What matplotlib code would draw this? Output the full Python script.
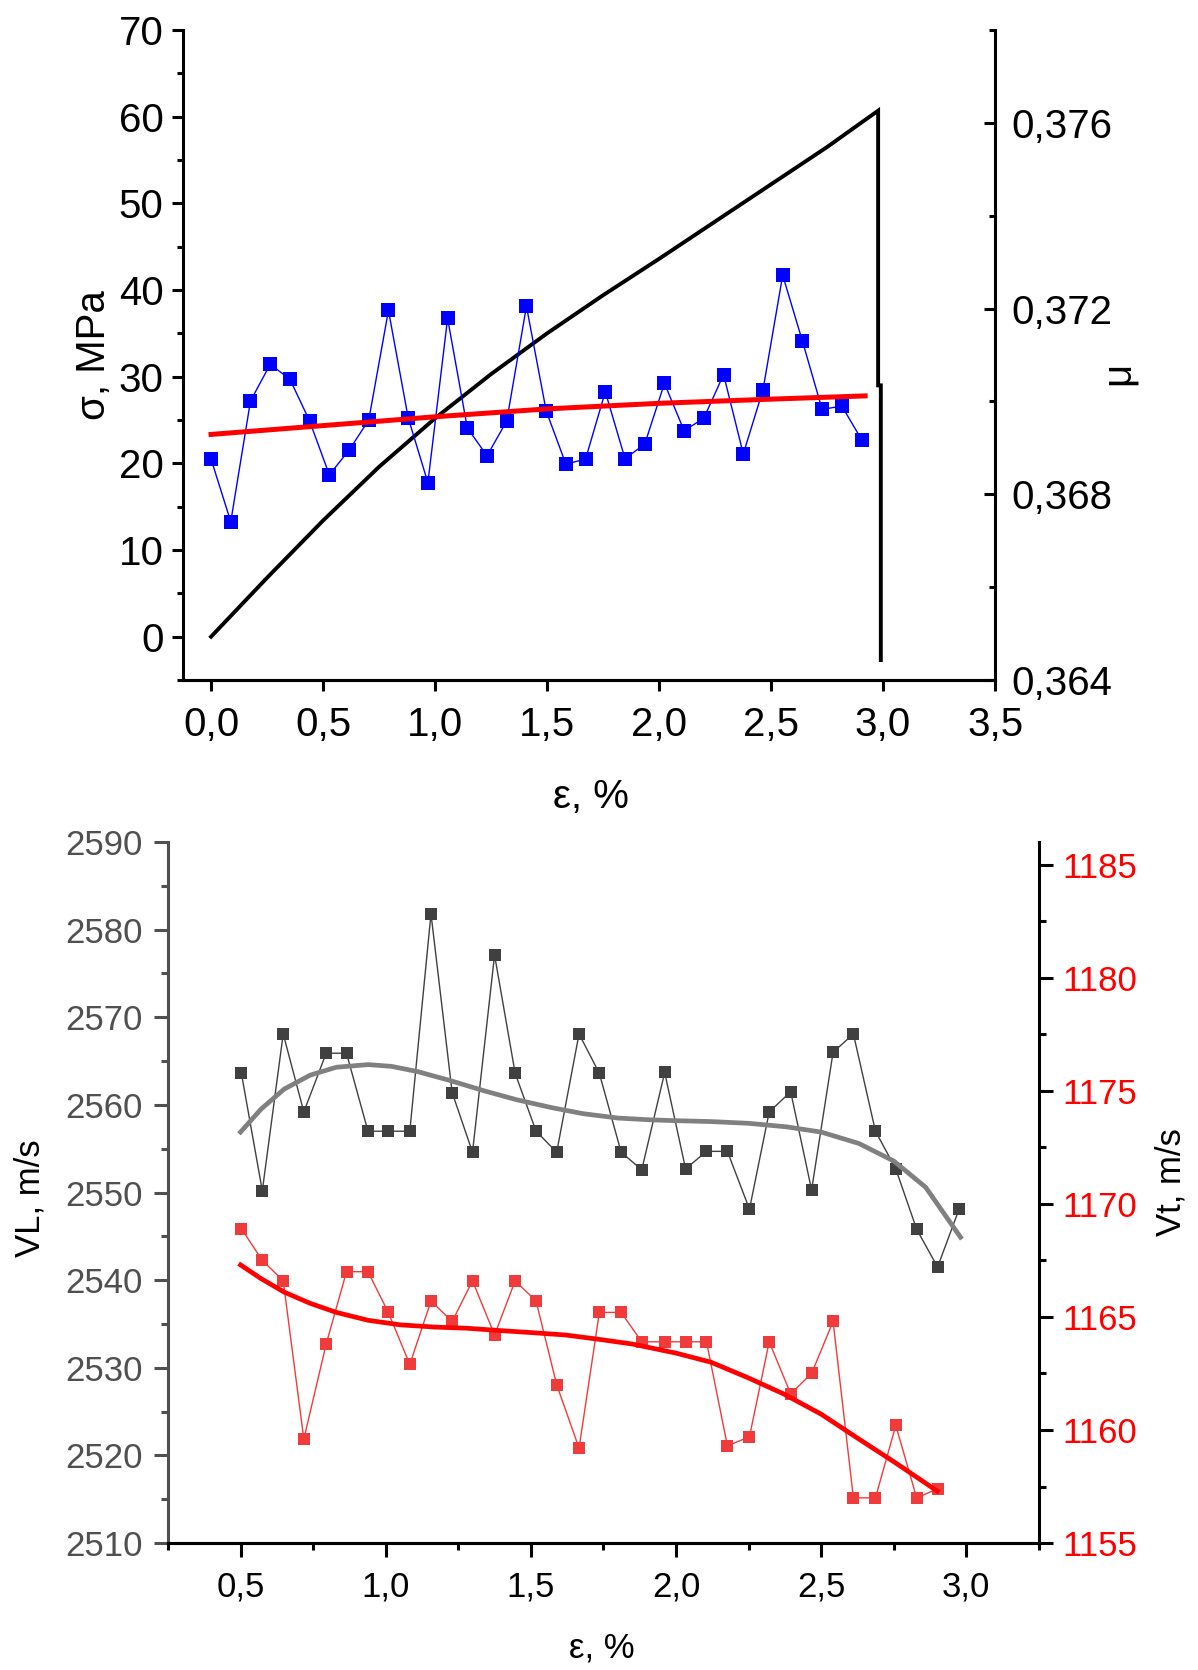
import matplotlib
matplotlib.use('Agg')
import matplotlib.pyplot as plt
from matplotlib.ticker import MultipleLocator, FuncFormatter

plt.rcParams['font.family'] = ['Liberation Sans', 'DejaVu Sans']

# ---- top chart: stress-strain curve + Poisson ratio ----
eps_sigma = [0.0, 0.25, 0.5, 0.75, 1.0, 1.25, 1.5, 1.75, 2.0, 2.25, 2.5, 2.75,
             2.978, 2.978, 2.99, 2.99]
sigma = [0.0, 6.8, 13.4, 19.6, 25.2, 30.3, 35.0, 39.4, 43.6, 47.9, 52.2, 56.5,
         60.7, 29.0, 29.0, -2.7]

eps_mu = [0.0, 0.088, 0.176, 0.264, 0.352, 0.44, 0.528, 0.616, 0.704, 0.792,
          0.88, 0.968, 1.056, 1.144, 1.232, 1.32, 1.408, 1.496, 1.584, 1.672,
          1.76, 1.848, 1.936, 2.024, 2.112, 2.2, 2.288, 2.376, 2.464, 2.552,
          2.64, 2.728, 2.816, 2.904]
mu = [0.36876, 0.36741, 0.37001, 0.3708, 0.37048, 0.36958, 0.36842, 0.36895,
      0.3696, 0.37196, 0.36965, 0.36825, 0.37179, 0.36943, 0.36883, 0.36958,
      0.37205, 0.3698, 0.36865, 0.36876, 0.37021, 0.36877, 0.36908, 0.37039,
      0.36937, 0.36964, 0.37058, 0.36887, 0.37025, 0.37272, 0.3713, 0.36983,
      0.3699, 0.36918]

eps_mu_fit = [0.0, 0.5, 1.0, 1.5, 2.0, 2.5, 2.92]
mu_fit = [0.36929, 0.36948, 0.36967, 0.36984, 0.36996, 0.37005, 0.37012]

# ---- bottom chart: sound velocities ----
eps_v = [0.503, 0.575, 0.647, 0.718, 0.795, 0.865, 0.939, 1.009, 1.083, 1.156,
         1.229, 1.299, 1.375, 1.446, 1.518, 1.589, 1.666, 1.736, 1.811, 1.882,
         1.961, 2.033, 2.105, 2.177, 2.253, 2.321, 2.395, 2.467, 2.541, 2.611,
         2.687, 2.757, 2.829, 2.901, 2.975]
vl = [2563.6, 2550.2, 2568.1, 2559.2, 2565.9, 2565.9, 2557.0, 2557.0, 2557.0,
      2581.8, 2561.4, 2554.6, 2577.1, 2563.6, 2557.0, 2554.6, 2568.1, 2563.6,
      2554.6, 2552.6, 2563.7, 2552.7, 2554.7, 2554.7, 2548.1, 2559.2, 2561.5,
      2550.3, 2566.0, 2568.1, 2557.0, 2552.7, 2545.8, 2541.5, 2548.1]
vt = [1168.9, 1167.5, 1166.6, 1159.6, 1163.8, 1167.0, 1167.0, 1165.2, 1162.9,
      1165.7, 1164.8, 1166.6, 1164.2, 1166.6, 1165.7, 1162.0, 1159.2, 1165.2,
      1165.2, 1163.9, 1163.9, 1163.9, 1163.9, 1159.3, 1159.7, 1163.9, 1161.6,
      1162.5, 1164.8, 1157.0, 1157.0, 1160.2, 1157.0, 1157.4]

eps_vl_fit = [0.5, 0.57, 0.65, 0.74, 0.83, 0.94, 1.02, 1.11, 1.22, 1.34, 1.45,
              1.57, 1.68, 1.80, 1.91, 2.0, 2.12, 2.25, 2.38, 2.5, 2.63, 2.75,
              2.86, 2.98]
vl_fit = [2556.9, 2559.5, 2561.8, 2563.4, 2564.3, 2564.6, 2564.4, 2563.8,
          2562.8, 2561.6, 2560.6, 2559.7, 2559.0, 2558.5, 2558.3, 2558.2,
          2558.1, 2557.9, 2557.5, 2556.9, 2555.6, 2553.6, 2550.6, 2544.9]
eps_vt_fit = [0.5, 0.57, 0.65, 0.74, 0.83, 0.94, 1.05, 1.17, 1.28, 1.39, 1.51,
              1.62, 1.74, 1.85, 2.0, 2.12, 2.25, 2.37, 2.5, 2.63, 2.75, 2.9]
vt_fit = [1167.3, 1166.7, 1166.1, 1165.6, 1165.2, 1164.85, 1164.65, 1164.55,
          1164.5, 1164.4, 1164.3, 1164.2, 1164.0, 1163.8, 1163.4, 1163.0,
          1162.3, 1161.6, 1160.7, 1159.6, 1158.6, 1157.3]


def comma(dec):
    return FuncFormatter(lambda v, p: f'{v:.{dec}f}'.replace('.', ','))


grey = '#505050'
fig = plt.figure(figsize=(11.98, 16.70), dpi=100)

# ================= top chart =================
ax1 = fig.add_axes([0.1528, 0.5928, 0.6778, 0.3892])
ax2 = ax1.twinx()

ax1.plot(eps_sigma, sigma, color='black', lw=2.8, solid_joinstyle='miter')
ax2.plot(eps_mu, mu, color='#0000ff', lw=1.0, marker='s', ms=9.5,
         markeredgewidth=0)
ax2.plot(eps_mu_fit, mu_fit, color='#ff0000', lw=3.6)

ax1.set_xlim(-0.125, 3.5)
ax1.set_ylim(-5, 70)
ax2.set_ylim(0.364, 0.378)

ax1.xaxis.set_major_locator(MultipleLocator(0.5))
ax1.xaxis.set_major_formatter(comma(1))
ax1.yaxis.set_major_locator(MultipleLocator(10))
ax1.yaxis.set_minor_locator(MultipleLocator(5))
ax2.yaxis.set_major_locator(MultipleLocator(0.004))
ax2.yaxis.set_minor_locator(MultipleLocator(0.002))
ax2.yaxis.set_major_formatter(comma(3))

for a in (ax1, ax2):
    a.spines['top'].set_visible(False)
    for s in a.spines.values():
        s.set_linewidth(2.2)
ax1.spines['right'].set_visible(False)
ax2.spines['left'].set_visible(False)

ax1.tick_params(axis='both', which='major', direction='out', length=8,
                width=2.2, labelsize=29)
ax1.tick_params(axis='y', which='minor', direction='out', length=4, width=2.2)
ax1.tick_params(axis='x', pad=11)
ax1.tick_params(axis='y', pad=6)
ax2.tick_params(axis='y', which='major', direction='in', length=8, width=2.2,
                labelsize=29, pad=12)
ax2.tick_params(axis='y', which='minor', direction='in', length=4, width=2.2)

ax1.set_xlabel('ε, %', fontsize=29, va='center')
ax1.xaxis.set_label_coords(0.502, -0.18)
ax1.set_ylabel('σ, MPa', fontsize=29, va='center', ha='center',
               rotation_mode='default')
ax1.yaxis.set_label_coords(-0.11, 0.5)
ax2.set_ylabel('μ', fontsize=29, va='center', ha='center',
               rotation_mode='default')
ax2.yaxis.set_label_coords(1.151, 0.472)

# ================= bottom chart =================
ax3 = fig.add_axes([0.1402, 0.0760, 0.7270, 0.4198])
ax4 = ax3.twinx()

ax3.plot(eps_v, vl, color='#404040', lw=1.0, marker='s', ms=9,
         markeredgewidth=0)
ax3.plot(eps_vl_fit, vl_fit, color='#808080', lw=3.4)
ax4.plot(eps_v[:len(vt)], vt, color='#ef3b3b', lw=1.0, marker='s', ms=9,
         markeredgewidth=0)
ax4.plot(eps_vt_fit, vt_fit, color='#ff0000', lw=3.4)

ax3.set_xlim(0.25, 3.25)
ax3.set_ylim(2510, 2590)
ax4.set_ylim(1155, 1186)

ax3.xaxis.set_major_locator(MultipleLocator(0.5))
ax3.xaxis.set_minor_locator(MultipleLocator(0.25))
ax3.xaxis.set_major_formatter(comma(1))
ax3.yaxis.set_major_locator(MultipleLocator(10))
ax3.yaxis.set_minor_locator(MultipleLocator(5))
ax4.yaxis.set_major_locator(MultipleLocator(5))
ax4.yaxis.set_minor_locator(MultipleLocator(2.5))

for a in (ax3, ax4):
    a.spines['top'].set_visible(False)
    for s in a.spines.values():
        s.set_linewidth(2.2)
ax3.spines['right'].set_visible(False)
ax4.spines['left'].set_visible(False)
ax3.spines['left'].set_color(grey)

ax3.tick_params(axis='x', which='major', direction='out', length=10, width=2.2,
                labelsize=25, pad=10)
ax3.tick_params(axis='x', which='minor', direction='out', length=5, width=2.2)
ax3.tick_params(axis='y', which='major', direction='out', length=10, width=2.2,
                labelsize=25, pad=8, color=grey, labelcolor=grey)
ax3.tick_params(axis='y', which='minor', direction='out', length=5, width=2.2,
                color=grey)
ax4.tick_params(axis='y', which='major', direction='out', length=10, width=2.2,
                labelsize=25, pad=7, labelcolor='#ff0000')
ax4.tick_params(axis='y', which='minor', direction='out', length=5, width=2.2)

ax3.set_xlabel('ε, %', fontsize=25, va='center')
ax3.xaxis.set_label_coords(0.498, -0.15)
ax3.set_ylabel('VL, m/s', fontsize=25, va='center', ha='center',
               rotation_mode='default')
ax3.yaxis.set_label_coords(-0.158, 0.492)
ax4.set_ylabel('Vt, m/s', fontsize=25, va='center', ha='center',
               rotation_mode='default')
ax4.yaxis.set_label_coords(1.152, 0.515)

fig.savefig('out.png', dpi=100)
